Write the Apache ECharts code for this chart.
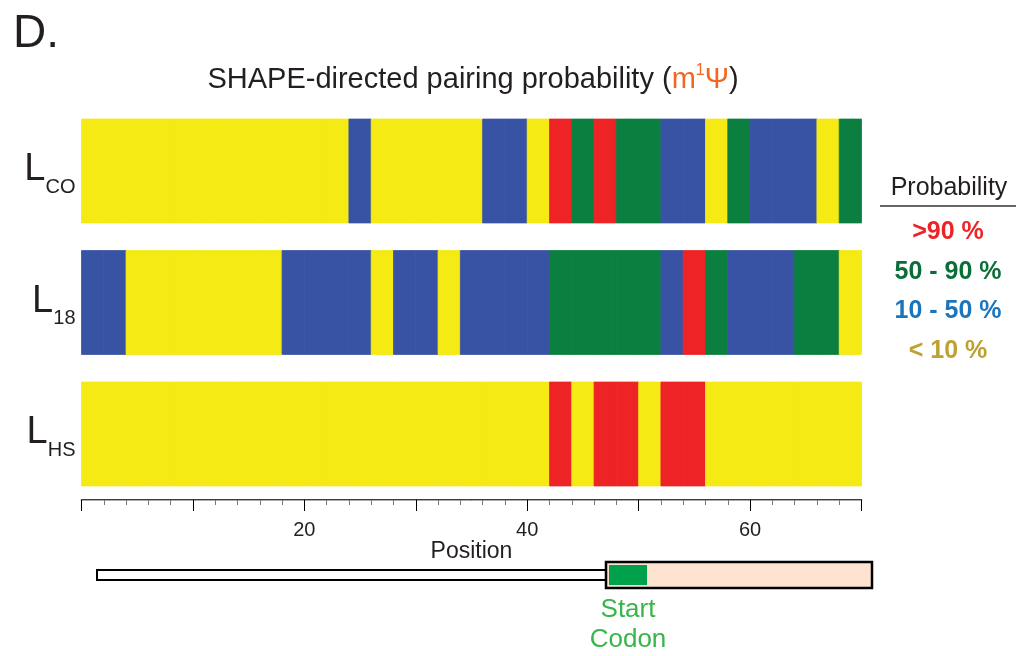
<!DOCTYPE html>
<html>
<head>
<meta charset="utf-8">
<script src="https://cdn.jsdelivr.net/npm/echarts@6/dist/echarts.min.js"></script>
<style>html,body{margin:0;padding:0;background:#fff;}#c{width:1016px;height:656px;}</style>
</head>
<body>
<div id="c"></div>
<script>
// ---- data ----
const rowNames = ['CO', '18', 'HS'];
const binStart = [0,2,4,6,8,10,12,14,16,18,20,22,24,26,28,30,32,34,36,38,40,42,44,46,48,50,52,54,56,58,60,62,64,66,68];
const binWidth = 2;
// class codes: 0 = <10 %, 1 = 10-50 %, 2 = 50-90 %, 3 = >90 %
const lCO = [0,0,0,0,0,0,0,0,0,0,0,0,1,0,0,0,0,0,1,1,0,3,2,3,2,2,1,1,0,2,1,1,1,0,2];
const l18 = [1,1,0,0,0,0,0,0,0,1,1,1,1,0,1,1,0,1,1,1,1,2,2,2,2,2,1,3,2,1,1,1,2,2,0];
const lHS = [0,0,0,0,0,0,0,0,0,0,0,0,0,0,0,0,0,0,0,0,0,3,0,3,3,0,3,3,0,0,0,0,0,0,0];
const tickLabels = [20, 40, 60];
const legendLabels = ['>90 %', '50 - 90 %', '10 - 50 %', '< 10 %'];

const cellColors = ['#F5EA14', '#3953A4', '#0A7F3F', '#EE2326'];
const legendColors = ['#EE2326', '#0A6E38', '#1C75BC', '#BFA031'];

const rows = [lCO, l18, lHS];
const cells = [];
rows.forEach((arr, r) => {
  arr.forEach((code, k) => {
    cells.push([binStart[k], binStart[k] + binWidth, r, code]);
  });
});

const chart = echarts.init(document.getElementById('c'));
const FONT = 'Liberation Sans, Arial, sans-serif';

const legendGraphics = [
  {type:'text', x: 949, y: 188, style:{text:'Probability', fontSize:25, fontFamily:FONT, fill:'#231F20', align:'center', verticalAlign:'middle'}},
  {type:'line', shape:{x1:880, y1:206, x2:1016, y2:206}, style:{stroke:'#333', lineWidth:1.5}}
];
legendLabels.forEach((t, i) => {
  legendGraphics.push({type:'text', x: 948, y: 232 + i * 39.7,
    style:{text:t, fontSize:25, fontWeight:'bold', fontFamily:FONT, fill:legendColors[i], align:'center', verticalAlign:'middle'}});
});

const geneGraphics = [
  {type:'rect', shape:{x:97, y:570, width:509, height:10}, style:{fill:'#fff', stroke:'#000', lineWidth:2}},
  {type:'rect', shape:{x:606, y:562, width:266, height:26}, style:{fill:'#FDE3D0', stroke:'#000', lineWidth:2.5}},
  {type:'rect', shape:{x:609, y:565, width:38, height:20}, style:{fill:'#00A14B'}},
  {type:'text', x:628, y:610, style:{text:'Start', fontSize:26, fontFamily:FONT, fill:'#39B54A', align:'center', verticalAlign:'middle'}},
  {type:'text', x:628, y:640, style:{text:'Codon', fontSize:26, fontFamily:FONT, fill:'#39B54A', align:'center', verticalAlign:'middle'}}
];

chart.setOption({
  animation: false,
  backgroundColor: '#fff',
  title: [
    {text:'D.', left: 8, top: 6, textStyle:{fontSize:46, fontWeight:'normal', fontFamily:FONT, color:'#231F20'}},
    {text:'{a|SHAPE-directed pairing probability (}{o|m}{sup|1}{o|Ψ}{a|)}', left: 468, textAlign:'center', top: 58,
      textStyle:{fontWeight:'normal', rich:{
        a:{fontSize:29, fontWeight:'normal', fontFamily:FONT, color:'#231F20', lineHeight:34},
        o:{fontSize:29, fontWeight:'normal', fontFamily:FONT, color:'#F26522', lineHeight:34},
        sup:{fontSize:16, fontWeight:'normal', fontFamily:FONT, color:'#F26522', verticalAlign:'top', lineHeight:34}
      }}}
  ],
  grid: [
    {left: 81.5, right: 154.5, top: 105.25, height: 394.5},
    {left: 81.5, right: 154.5, top: 489, height: 11}
  ],
  xAxis: [
    {type:'value', gridIndex:0, min:0, max:70, interval:10,
      axisLine:{show:true, lineStyle:{color:'#000', width:1.5}},
      axisTick:{show:true, length:11, lineStyle:{color:'#000', width:1}},
      splitLine:{show:false},
      axisLabel:{margin:21, fontSize:20, fontFamily:FONT, color:'#231F20',
        formatter: v => tickLabels.indexOf(v) >= 0 ? String(v) : ''},
      name:'Position', nameLocation:'middle', nameGap:40, nameMoveOverlap:false,
      nameTextStyle:{fontSize:23, fontFamily:FONT, color:'#231F20'}},
    {type:'value', gridIndex:1, position:'top', min:0, max:70, interval:10,
      axisLine:{show:true, lineStyle:{color:'#aaa', width:1}},
      axisTick:{show:true, inside:true, length:11, lineStyle:{color:'#000', width:1}},
      minorTick:{show:true, splitNumber:5, length:5, lineStyle:{color:'#777', width:1}},
      splitLine:{show:false}, axisLabel:{show:false}}
  ],
  yAxis: [
    {type:'category', gridIndex:0, data: rowNames, inverse:true,
      axisLine:{show:false}, axisTick:{show:false}, splitLine:{show:false},
      axisLabel:{margin:6, formatter: v => '{l|L}{s|' + v + '}',
        rich:{
          l:{fontSize:38, fontFamily:FONT, color:'#231F20', lineHeight:52, verticalAlign:'bottom', padding:[0,0,8,0]},
          s:{fontSize:20, fontFamily:FONT, color:'#231F20', lineHeight:52, verticalAlign:'bottom'}
        }}},
    {type:'value', gridIndex:1, min:0, max:1, show:false}
  ],
  series: [{
    type:'custom', xAxisIndex:0, yAxisIndex:0,
    data: cells,
    renderItem: (params, api) => {
      const p0 = api.coord([api.value(0), api.value(2)]);
      const p1 = api.coord([api.value(1), api.value(2)]);
      const h = api.size([0, 1])[1] * 0.79;
      const c = cellColors[api.value(3)];
      return {type:'rect', shape:{x:p0[0], y:p0[1] - h / 2, width:p1[0] - p0[0], height:h},
        style:{fill: c, stroke: c, lineWidth: 0.8}};
    }
  }],
  graphic: legendGraphics.concat(geneGraphics)
});
</script>
</body>
</html>
